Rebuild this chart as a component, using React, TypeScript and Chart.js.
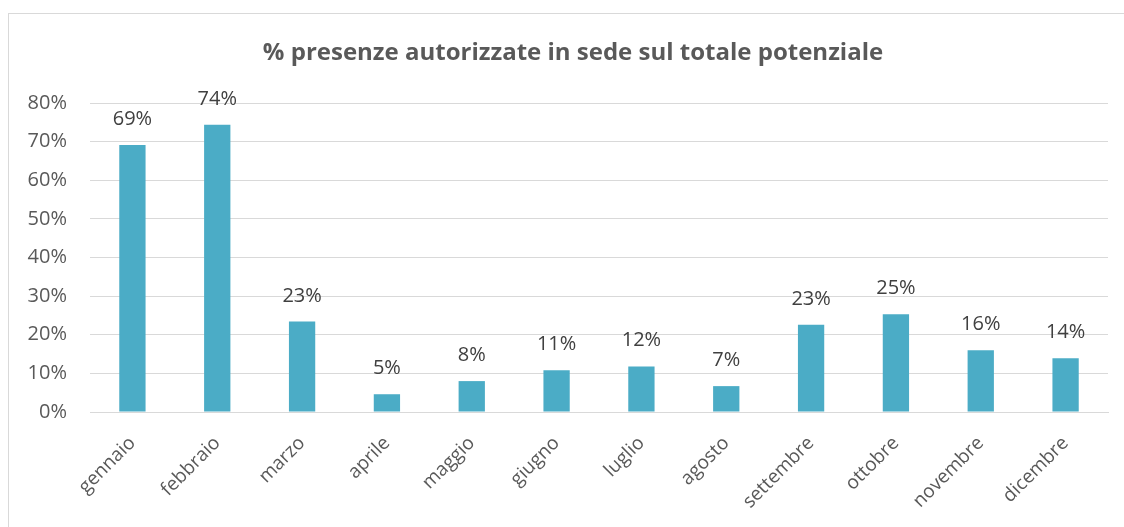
import React, { useEffect, useRef } from "react";
import { Chart, registerables } from "chart.js";

Chart.register(...registerables);

const title = "% presenze autorizzate in sede sul totale potenziale";
const months = [
  "gennaio", "febbraio", "marzo", "aprile", "maggio", "giugno",
  "luglio", "agosto", "settembre", "ottobre", "novembre", "dicembre",
];
const values = [69.1, 74.4, 23.4, 4.6, 8.0, 10.8, 11.8, 6.7, 22.6, 25.3, 16.0, 13.9];
const labels = ["69%", "74%", "23%", "5%", "8%", "11%", "12%", "7%", "23%", "25%", "16%", "14%"];

const FONT = "'Open Sans', sans-serif";

export default function App() {
  const ref = useRef<HTMLCanvasElement | null>(null);

  useEffect(() => {
    document.body.style.overflow = "hidden";
    const canvas = ref.current;
    if (!canvas) return;

    const dataLabels = {
      id: "dataLabels",
      afterDatasetsDraw(chart: any) {
        const ctx = chart.ctx;
        const meta = chart.getDatasetMeta(0);
        ctx.save();
        ctx.font = `20px ${FONT}`;
        ctx.fillStyle = "#404040";
        ctx.textAlign = "center";
        ctx.textBaseline = "alphabetic";
        meta.data.forEach((bar: any, i: number) => {
          ctx.fillText(labels[i], bar.x, bar.y - 20);
        });
        ctx.restore();
      },
    };

    const titlePlugin = {
      id: "customTitle",
      afterDraw(chart: any) {
        const ctx = chart.ctx;
        ctx.save();
        ctx.font = `bold 24px ${FONT}`;
        ctx.fillStyle = "#595959";
        ctx.textAlign = "center";
        ctx.textBaseline = "alphabetic";
        ctx.fillText(title, 564, 46);
        ctx.restore();
      },
    };

    const chart = new Chart(canvas, {
      type: "bar",
      data: {
        labels: months,
        datasets: [
          {
            data: values,
            backgroundColor: "#4BACC6",
            borderWidth: 0,
            barPercentage: 0.31,
            categoryPercentage: 1,
          },
        ],
      },
      options: {
        responsive: false,
        animation: false,
        layout: { padding: { left: 0, right: 16, top: 89, bottom: 0 } },
        plugins: {
          legend: { display: false },
          title: { display: false },
          tooltip: { enabled: false },
        },
        scales: {
          x: {
            grid: { display: false, drawTicks: false },
            border: { display: true, color: "#d9d9d9", width: 1 },
            ticks: {
              color: "#595959",
              font: { family: FONT, size: 19 },
              minRotation: 45,
              maxRotation: 45,
              padding: 20,
              autoSkip: false,
            },
            afterFit(scale: any) {
              scale.height = 115;
            },
          },
          y: {
            min: 0,
            max: 80,
            grid: { color: "#d9d9d9", lineWidth: 1, drawTicks: false },
            border: { display: false },
            ticks: {
              stepSize: 10,
              color: "#595959",
              font: { family: FONT, size: 20 },
              padding: 23,
              callback: (v: any) => `${v}%`,
            },
            afterFit(scale: any) {
              scale.width = 81;
            },
          },
        },
      },
      plugins: [dataLabels, titlePlugin],
    });

    return () => chart.destroy();
  }, []);

  return (
    <div
      style={{
        position: "fixed",
        left: 8,
        top: 13,
        width: 1140,
        height: 530,
        borderLeft: "1px solid #d9d9d9",
        borderTop: "1px solid #d9d9d9",
        background: "#fff",
        overflow: "hidden",
      }}
    >
      <canvas
        ref={ref}
        width={1115}
        height={513}
        style={{ display: "block", width: 1115, height: 513 }}
      />
    </div>
  );
}
